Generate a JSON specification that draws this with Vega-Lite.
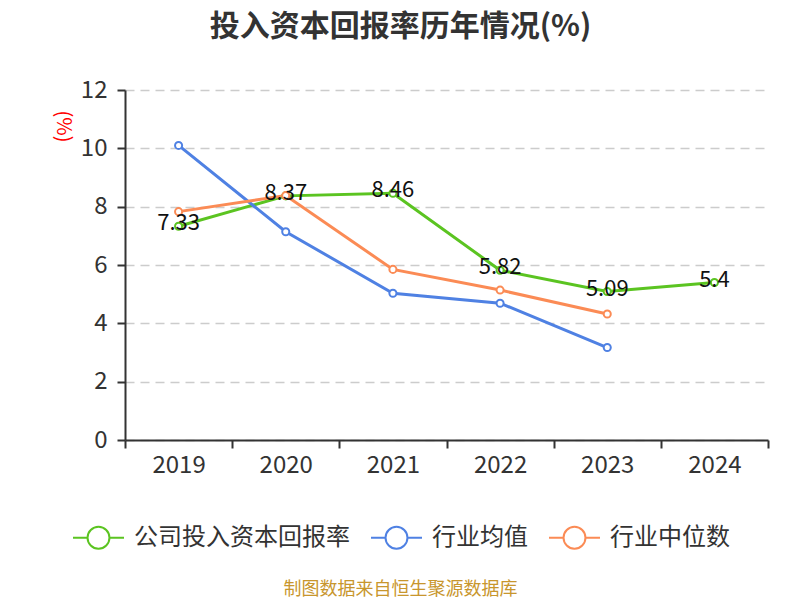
{
  "$schema": "https://vega.github.io/schema/vega-lite/v6.json",
  "width": 643,
  "height": 350,
  "autosize": {"type": "none"},
  "padding": {"left": 125, "top": 90, "right": 32, "bottom": 160},
  "background": "white",
  "config": {"view": {"stroke": null}, "font": "Noto Sans CJK SC"},
  "title": {
    "text": "投入资本回报率历年情况(%)",
    "font": "Noto Sans CJK SC",
    "fontSize": 30,
    "fontWeight": "bold",
    "color": "#333333",
    "anchor": "middle",
    "dx": -46,
    "offset": 36
  },
  "data": {
    "values": [
      {"year": "2019", "series": "公司投入资本回报率", "value": 7.33},
      {"year": "2020", "series": "公司投入资本回报率", "value": 8.37},
      {"year": "2021", "series": "公司投入资本回报率", "value": 8.46},
      {"year": "2022", "series": "公司投入资本回报率", "value": 5.82},
      {"year": "2023", "series": "公司投入资本回报率", "value": 5.09},
      {"year": "2024", "series": "公司投入资本回报率", "value": 5.4},
      {"year": "2019", "series": "行业均值", "value": 10.1},
      {"year": "2020", "series": "行业均值", "value": 7.14},
      {"year": "2021", "series": "行业均值", "value": 5.03},
      {"year": "2022", "series": "行业均值", "value": 4.69},
      {"year": "2023", "series": "行业均值", "value": 3.17},
      {"year": "2019", "series": "行业中位数", "value": 7.83},
      {"year": "2020", "series": "行业中位数", "value": 8.38},
      {"year": "2021", "series": "行业中位数", "value": 5.85},
      {"year": "2022", "series": "行业中位数", "value": 5.14},
      {"year": "2023", "series": "行业中位数", "value": 4.32}
    ]
  },
  "encoding": {
    "x": {
      "field": "year",
      "type": "ordinal",
      "scale": {"type": "band", "paddingInner": 0, "paddingOuter": 0},
      "axis": {
        "title": "制图数据来自恒生聚源数据库",
        "titleColor": "#c8962d",
        "titleFontSize": 18,
        "titleFontWeight": "normal",
        "titleX": 275,
        "titleY": 149,
        "titleAlign": "center",
        "titleBaseline": "middle",
        "labelAngle": 0,
        "labelFontSize": 24,
        "labelColor": "#333333",
        "labelPadding": 5,
        "domainColor": "#333333",
        "domainWidth": 2,
        "tickColor": "#333333",
        "tickWidth": 2,
        "tickSize": 8,
        "tickBand": "extent",
        "grid": false
      }
    },
    "y": {
      "field": "value",
      "type": "quantitative",
      "scale": {"domain": [0, 12], "nice": false},
      "axis": {
        "values": [0, 2, 4, 6, 8, 10, 12],
        "title": "(%)",
        "titleColor": "#ff0000",
        "titleFontSize": 20,
        "titleFontWeight": "normal",
        "titleAngle": 90,
        "titleX": -63,
        "titleY": 36,
        "titleAlign": "center",
        "titleBaseline": "middle",
        "labelFontSize": 24,
        "labelColor": "#333333",
        "labelPadding": 10,
        "domainColor": "#333333",
        "domainWidth": 2,
        "tickColor": "#333333",
        "tickWidth": 2,
        "tickSize": 8,
        "grid": true,
        "gridColor": "#cccccc",
        "gridWidth": 1.5,
        "gridDash": [9, 6]
      }
    }
  },
  "layer": [
    {
      "mark": {"type": "line", "strokeWidth": 3},
      "encoding": {
        "color": {
          "field": "series",
          "type": "nominal",
          "scale": {
            "domain": ["公司投入资本回报率", "行业均值", "行业中位数"],
            "range": ["#5bc421", "#4f81e3", "#fb8b55"]
          },
          "legend": {
            "title": null,
            "orient": "none",
            "direction": "horizontal",
            "legendX": -53,
            "legendY": 421,
            "padding": 0,
            "symbolType": "M-1,0L-0.43,0M0.43,0L1,0M0.43,0A0.43,0.43,0,1,1,-0.43,0A0.43,0.43,0,1,1,0.43,0",
            "symbolSize": 2600,
            "symbolStrokeWidth": 2,
            "symbolFillColor": "white",
            "labelFontSize": 24,
            "labelColor": "#333333",
            "labelOffset": 9,
            "labelLimit": 400,
            "columnPadding": 17
          }
        }
      }
    },
    {
      "mark": {"type": "point", "shape": "circle", "filled": false, "fill": "white", "strokeWidth": 2, "size": 50, "opacity": 1},
      "encoding": {
        "color": {"field": "series", "type": "nominal"}
      }
    },
    {
      "transform": [{"filter": "datum.series === '公司投入资本回报率'"}],
      "mark": {"type": "text", "fontSize": 22, "color": "#111111", "dy": -3, "baseline": "middle", "align": "center"},
      "encoding": {
        "text": {"field": "value", "type": "quantitative"}
      }
    }
  ]
}
